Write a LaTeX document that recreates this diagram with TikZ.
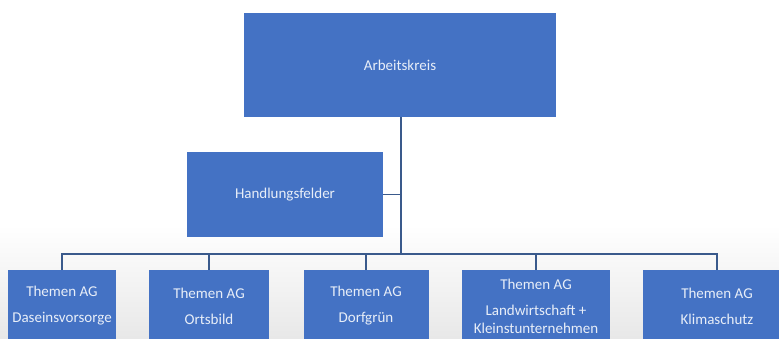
\documentclass[tikz,border=0pt]{standalone}
\usepackage{fontspec}
\setmainfont{Carlito}
\definecolor{boxblue}{HTML}{4472C4}
\definecolor{linkblue}{HTML}{3A5A8C}
\definecolor{boxtext}{HTML}{E8EEF8}
\tikzset{
  orgbox/.style={rectangle, fill=boxblue, text=boxtext, inner sep=0pt,
    align=center, font=\fontsize{15}{18}\selectfont},
  link/.style={draw=linkblue, line width=1.8pt}
}
\begin{document}
\begin{tikzpicture}[x=1pt, y=-1pt]
      \useasboundingbox (0,0) rectangle (779,338);
      \shade[top color=white, bottom color=black!9] (0,225) rectangle (779,338);
      \draw
        (400,65) node[orgbox, minimum width=312, minimum height=104] (ak){Arbeitskreis}
        (285,194.5) node[orgbox, minimum width=196, minimum height=85] (hf){Handlungsfelder}
        (62,306) node[orgbox, minimum width=108, minimum height=72] (ag1){Themen AG\\[8pt]Daseinsvorsorge}
        (209,306) node[orgbox, minimum width=120, minimum height=72] (ag2){Themen AG\\[8pt]Ortsbild}
        (366,306) node[orgbox, minimum width=125, minimum height=72] (ag3){Themen AG\\[8pt]Dorfgrün}
        (536,306) node[orgbox, minimum width=148, minimum height=72] (ag4){Themen AG\\[8pt]Landwirtschaft +\\Kleinstunternehmen}
        (717,306) node[orgbox, minimum width=148, minimum height=72] (ag5){Themen AG\\[8pt]Klimaschutz};
      \coordinate (bar) at (401,254);
      \begin{scope}[link]
        \draw (ak.south -| bar) -- (bar);
        \draw (hf.east) -- (hf.east -| bar);
        \draw (ag1.north) |- (bar);
        \draw (ag2.north) |- (bar);
        \draw (ag3.north) |- (bar);
        \draw (ag4.north) |- (bar);
        \draw (ag5.north) |- (bar);
      \end{scope}
    \end{tikzpicture}
\end{document}
